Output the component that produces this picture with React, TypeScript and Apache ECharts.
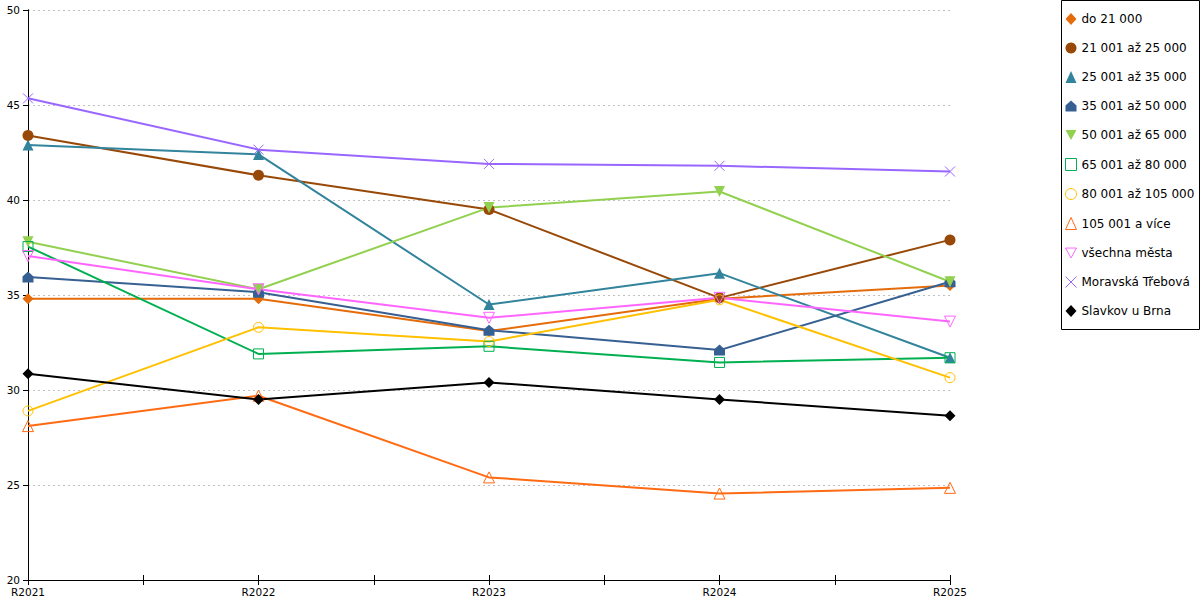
import React, { useEffect, useRef } from "react";
import * as echarts from "echarts";

const years = ["R2021", "R2022", "R2023", "R2024", "R2025"];

const names = [
  "do 21 000",
  "21 001 až 25 000",
  "25 001 až 35 000",
  "35 001 až 50 000",
  "50 001 až 65 000",
  "65 001 až 80 000",
  "80 001 až 105 000",
  "105 001 a více",
  "všechna města",
  "Moravská Třebová",
  "Slavkov u Brna",
];

const do21 = [34.8, 34.8, 33.1, 34.8, 35.5];
const s21to25 = [43.4, 41.3, 39.5, 34.85, 37.9];
const s25to35 = [42.9, 42.4, 34.5, 36.15, 31.7];
const s35to50 = [35.95, 35.15, 33.15, 32.1, 35.7];
const s50to65 = [37.8, 35.3, 39.6, 40.45, 35.7];
const s65to80 = [37.55, 31.9, 32.3, 31.45, 31.7];
const s80to105 = [28.9, 33.3, 32.55, 34.75, 30.65];
const s105plus = [28.1, 29.7, 25.4, 24.55, 24.85];
const allTowns = [37.05, 35.3, 33.8, 34.85, 33.6];
const moravskaTrebova = [45.35, 42.65, 41.9, 41.8, 41.5];
const slavkov = [30.85, 29.5, 30.4, 29.5, 28.65];

const seriesData = [do21, s21to25, s25to35, s35to50, s50to65, s65to80, s80to105, s105plus, allTowns, moravskaTrebova, slavkov];

const colors = ["#E46C0A", "#984807", "#31849B", "#376092", "#92D050", "#00B050", "#FFC000", "#FF6A13", "#FF66FF", "#9966FF", "#000000"];

const HOUSE = "path://M5,0 L10,4.5 L10,10 L0,10 L0,4.5 Z";
const INV_TRI = "path://M0,0 L10,0 L5,9 Z";
const CROSS = "path://M0,0 L10,10 M10,0 L0,10";

const symbols = ["diamond", "circle", "triangle", HOUSE, INV_TRI, "rect", "circle", "triangle", INV_TRI, CROSS, "diamond"];
const hollow = [false, false, false, false, false, true, true, true, true, true, false];
const sizes = [11, 11, 11, 11, 11, 10, 10, 11, 11, 10, 11];

const FONT = "DejaVu Sans";

export default function App() {
  const ref = useRef<HTMLDivElement>(null);

  useEffect(() => {
    if (!ref.current) return;
    const chart = echarts.init(ref.current, undefined, { renderer: "svg" });

    const itemStyleFor = (i: number) =>
      hollow[i]
        ? { color: "rgba(0,0,0,0)", borderColor: colors[i], borderWidth: 1 }
        : { color: colors[i], borderWidth: 0 };

    const series = names.map((name, i) => ({
      name,
      type: "line",
      xAxisIndex: 0,
      yAxisIndex: 0,
      data: seriesData[i],
      symbol: symbols[i],
      symbolSize: sizes[i],
      showAllSymbol: true,
      lineStyle: { color: colors[i], width: 2 },
      itemStyle: itemStyleFor(i),
      emphasis: { disabled: true },
    }));

    const tickAxis = (inside: boolean) => ({
      type: "value",
      min: 0,
      max: 8,
      interval: 1,
      position: "bottom",
      axisLine: { show: false },
      axisTick: { show: true, inside, length: 5, lineStyle: { color: "#000", width: 1 } },
      axisLabel: { show: false },
      splitLine: { show: false },
    });

    chart.setOption({
      animation: false,
      textStyle: { fontFamily: FONT },
      grid: { left: 28, right: 250, top: 10, bottom: 20, containLabel: false },
      xAxis: [
        {
          type: "category",
          data: years,
          boundaryGap: false,
          axisLine: { show: true, lineStyle: { color: "#000", width: 1 } },
          axisTick: { show: false },
          axisLabel: { color: "#000", fontSize: 10.5, fontFamily: FONT, margin: 6, interval: 0 },
          splitLine: { show: false },
        },
        tickAxis(false),
        tickAxis(true),
      ],
      yAxis: [
        {
          type: "value",
          min: 20,
          max: 50,
          interval: 5,
          axisLine: { show: true, lineStyle: { color: "#000", width: 1 } },
          axisTick: { show: true, length: 5, lineStyle: { color: "#000" } },
          axisLabel: { color: "#000", fontSize: 10.5, fontFamily: FONT, margin: 8 },
          splitLine: { show: true, lineStyle: { color: "#c0c0c0", type: [2, 3], width: 1 } },
        },
        {
          type: "value",
          min: 20,
          max: 50,
          interval: 5,
          position: "right",
          axisLine: { show: true, lineStyle: { color: "#000", width: 1 } },
          axisTick: { show: false },
          axisLabel: { show: false },
          splitLine: { show: false },
        },
      ],
      legend: {
        orient: "vertical",
        left: 1065,
        top: 13,
        padding: 0,
        itemGap: 17,
        itemWidth: 11,
        itemHeight: 12,
        textStyle: { color: "#000", fontSize: 12, fontFamily: FONT, padding: [0, 0, 0, 0] },
        data: names.map((name, i) => ({
          name,
          icon: symbols[i],
          itemStyle: itemStyleFor(i),
        })),
        selectedMode: false,
      },
      graphic: [
        {
          type: "rect",
          shape: { x: 1061.5, y: 0.5, width: 138, height: 329 },
          style: { fill: "none", stroke: "#000", lineWidth: 1 },
          silent: true,
        },
      ],
      series,
    });

    return () => chart.dispose();
  }, []);

  return <div ref={ref} style={{ width: 1200, height: 600, position: "absolute", left: 0, top: 0 }} />;
}
